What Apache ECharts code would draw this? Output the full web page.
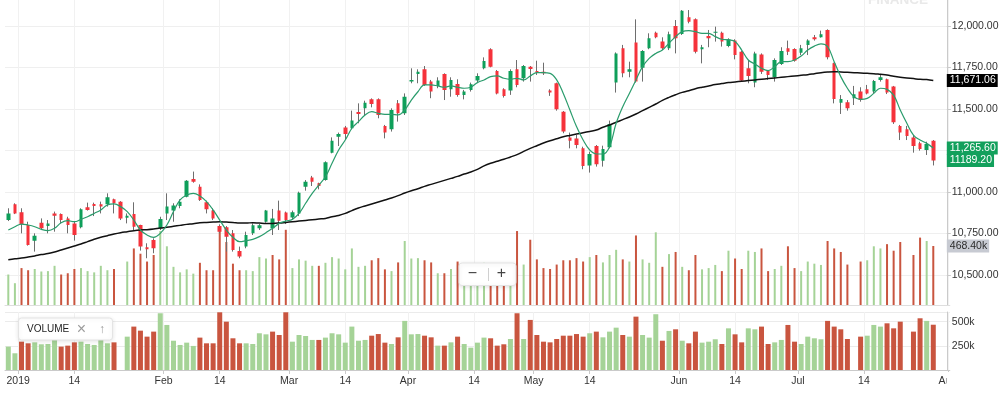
<!DOCTYPE html>
<html>
<head>
<meta charset="utf-8">
<title>Daily price chart 2019</title>
<script src="https://cdn.jsdelivr.net/npm/echarts@6.0.0/dist/echarts.min.js"></script>
<style>
html, body { margin: 0; padding: 0; background: #ffffff; }
#chart { width: 1000px; height: 394px; }
</style>
</head>
<body>
<div id="chart"></div>
<script>
// ===== Data (one entry per trading day) =====
const opens = [10831,10926,10878,10801,10707,10815,10795,10871,10867,10841,
 10811,10787,10908,10928,10926,10926,10956,10942,10845,10867,
 10801,10667,10711,10781,10871,10888,10916,10972,11078,11032,
 10938,10888,10795,10787,10751,10645,10671,10751,10781,10821,
 10781,10888,10876,10847,10871,11032,11088,11052,11072,11237,
 11333,11388,11384,11482,11504,11558,11558,11398,11378,11534,
 11474,11665,11711,11739,11665,11639,11711,11619,11651,11585,
 11615,11671,11745,11860,11729,11619,11611,11739,11685,11755,
 11729,11725,11611,11655,11484,11329,11323,11263,11159,11277,
 11189,11269,11659,11866,11725,11900,11749,11866,11960,11906,
 11866,12000,11952,12052,12040,11860,11940,11960,11960,11880,
 11912,11845,11745,11659,11829,11731,11691,11771,11866,11862,
 11839,11886,11932,11932,11976,11775,11538,11540,11565,11605,
 11619,11605,11675,11679,11635,11398,11378,11329,11293,11253,
 11309];
const highs = [10902,10932,10902,10821,10751,10841,10831,10882,10871,10851,
 10821,10902,10936,10936,10942,10992,10960,10945,10871,10938,
 10803,10691,10721,10851,10992,10932,10956,11072,11123,11046,
 10948,10902,10805,10795,10771,10671,10761,10811,10807,10892,
 10898,10948,10882,10888,11002,11072,11097,11056,11185,11329,
 11358,11398,11490,11534,11550,11564,11564,11404,11504,11554,
 11594,11745,11739,11759,11675,11691,11715,11691,11679,11615,
 11659,11715,11811,11866,11735,11625,11739,11795,11765,11759,
 11791,11779,11619,11659,11488,11358,11344,11273,11243,11283,
 11279,11430,11841,11886,11785,12040,11855,11956,11966,11932,
 11966,12036,12096,12096,12046,11886,11976,11996,11966,11926,
 11920,11851,11795,11845,11835,11735,11805,11872,11912,11866,
 11886,11920,11946,11972,11980,11779,11584,11554,11639,11631,
 11645,11675,11711,11683,11639,11404,11398,11344,11303,11303,
 11313];
const lows = [10825,10867,10751,10677,10641,10771,10751,10761,10811,10751,
 10707,10781,10888,10855,10871,10912,10871,10831,10811,10771,
 10647,10601,10631,10771,10831,10821,10902,10968,11056,10946,
 10871,10831,10751,10641,10641,10601,10661,10741,10771,10815,
 10741,10771,10807,10835,10855,11008,11036,11016,11068,11233,
 11277,11317,11378,11414,11464,11510,11444,11323,11364,11424,
 11464,11655,11655,11639,11565,11625,11554,11574,11574,11558,
 11605,11659,11739,11751,11588,11569,11585,11631,11665,11665,
 11705,11705,11579,11490,11354,11263,11263,11137,11117,11153,
 11153,11263,11599,11691,11691,11659,11665,11860,11926,11855,
 11855,11835,11946,12016,11835,11775,11872,11906,11876,11872,
 11799,11665,11655,11631,11711,11675,11665,11765,11825,11785,
 11825,11825,11912,11930,11799,11534,11470,11490,11524,11544,
 11588,11594,11665,11590,11410,11313,11313,11237,11249,11223,
 11160];
const closes = [10871,10871,10807,10681,10737,10781,10811,10857,10831,10801,
 10741,10896,10892,10916,10912,10968,10932,10841,10857,10791,
 10671,10655,10661,10837,10912,10918,10942,11068,11062,10952,
 10896,10841,10761,10731,10651,10611,10741,10799,10799,10888,
 10841,10827,10831,10878,10996,11062,11062,11036,11179,11309,
 11350,11350,11430,11470,11538,11530,11464,11358,11494,11474,
 11574,11675,11725,11645,11605,11671,11615,11675,11585,11605,
 11649,11699,11789,11755,11594,11579,11729,11645,11759,11741,
 11719,11715,11599,11498,11364,11309,11283,11157,11229,11167,
 11259,11410,11835,11715,11739,11665,11849,11926,11932,11866,
 11950,11926,12092,12026,11845,11872,11926,11966,11906,11920,
 11825,11671,11699,11835,11725,11705,11795,11849,11845,11791,
 11866,11912,11920,11950,11811,11560,11560,11504,11589,11554,
 11594,11669,11691,11599,11420,11358,11338,11277,11259,11289,
 11189.20];
// volume in thousands (null = no volume reported that day)
const volumesK = [242,173,293,276,286,266,269,311,242,252,
 286,293,269,259,311,276,286,null,345,449,
 407,345,397,587,466,303,259,283,249,335,
 276,276,597,500,328,276,276,269,380,369,
 397,362,597,293,362,352,311,311,335,380,
 369,283,449,303,311,355,372,283,269,338,
 508,369,372,355,338,252,252,286,345,269,
 231,283,335,328,252,266,321,587,321,518,
 362,293,286,321,355,355,372,345,380,397,
 338,397,438,362,345,552,362,335,577,303,
 404,421,303,276,397,283,293,318,269,431,
 369,286,431,421,449,269,286,311,466,293,
 269,345,328,318,508,449,421,321,null,345,
 355,466,449,483,431,500,null,397,535,508,
 468.40];
// 1 = up-volume bar (green), 0 = down-volume bar (red)
const volumeUp = [1,1,0,0,1,1,1,1,0,0,
 0,1,1,1,1,1,0,0,1,0,
 0,0,0,1,1,1,1,1,1,0,
 0,0,0,0,0,0,1,1,1,1,
 0,0,0,1,1,1,1,0,1,1,
 1,1,1,1,1,0,0,0,1,0,
 1,1,1,0,0,1,0,1,0,1,
 1,1,1,0,0,0,1,0,1,0,
 0,0,0,0,0,0,0,0,1,0,
 1,1,1,0,1,0,1,1,1,0,
 1,0,1,0,0,1,1,1,0,1,
 0,0,1,1,0,0,1,1,0,0,
 1,1,1,1,0,0,0,0,0,0,
 1,1,1,0,0,0,0,0,0,1,
 0];
// short moving average (green line)
const maShort = [10771,10791,10807,10801,10791,10775,10767,10781,10815,10827,
 10821,10835,10851,10871,10892,10922,10928,10912,10882,10831,
 10771,10741,10727,10751,10801,10882,10952,10982,10992,10976,
 10942,10892,10831,10771,10727,10701,10707,10715,10731,10755,
 10781,10811,10825,10835,10871,10932,10992,11042,11092,11173,
 11253,11313,11384,11424,11464,11484,11474,11468,11468,11464,
 11494,11554,11604,11645,11645,11639,11631,11639,11631,11625,
 11631,11659,11675,11695,11699,11685,11679,11685,11675,11699,
 11719,11719,11715,11675,11594,11494,11394,11313,11253,11229,
 11229,11273,11414,11514,11594,11675,11755,11805,11835,11855,
 11896,11936,11966,11972,11966,11956,11956,11936,11920,11916,
 11906,11855,11795,11771,11745,11731,11755,11785,11785,11795,
 11819,11855,11879,11892,11876,11785,11695,11625,11574,11558,
 11564,11594,11625,11618,11584,11494,11414,11343,11313,11293,
 11265.60];
// long moving average (black line)
const maLong = [10592,10598,10602,10608,10615,10623,10629,10639,10651,10663,
 10675,10687,10701,10715,10727,10737,10747,10755,10761,10767,
 10771,10773,10777,10783,10787,10793,10799,10805,10809,10815,
 10817,10819,10821,10819,10817,10813,10813,10815,10813,10811,
 10811,10813,10817,10821,10825,10829,10833,10837,10841,10851,
 10859,10871,10888,10904,10916,10928,10940,10952,10964,10978,
 10994,11008,11020,11034,11046,11058,11070,11082,11094,11108,
 11120,11136,11157,11173,11185,11197,11211,11225,11245,11263,
 11279,11295,11309,11321,11333,11341,11349,11357,11365,11373,
 11390,11404,11420,11436,11452,11470,11490,11510,11530,11552,
 11570,11586,11600,11610,11622,11631,11639,11647,11653,11659,
 11663,11667,11671,11675,11679,11683,11687,11691,11695,11699,
 11703,11707,11713,11719,11723,11725,11723,11721,11719,11717,
 11715,11713,11709,11705,11697,11691,11687,11683,11679,11677,
 11671.06];
// time-axis ticks, expressed in trading-day units along the axis
const xTickPositions = [1.5, 10, 23.5, 32, 42.5, 51, 60.5, 70.5, 79.5, 88, 101.5, 110, 119.5, 129.5, 142.2];
const xTickLabels = ['2019', '14', 'Feb', '14', 'Mar', '14', 'Apr', '14', 'May', '14', 'Jun', '14', 'Jul', '14', 'Aug'];
const priceGridTicks = [10500, 10750, 11000, 11250, 11500, 11750, 12000];
const priceLabelTicks = [10500, 10750, 11000, 11500, 11750, 12000];
const volumeLabelTicksK = [250, 500];
const volumeGridTicksK = [250, 500, 600];
const emptyTrailingDays = 2; // axis continues two sessions past the last bar

// ===== Presentation =====
const FONT = "'Liberation Sans', Arial, Helvetica, sans-serif";
const UP = '#0e9f5a', DOWN = '#f5323b', WICK = '#6e6e6e';
const VOL_UP = '#a5d397', VOL_DOWN = '#c9553f';
const MA_SHORT = '#2a9c6c', MA_LONG = '#111111';
const LABEL_GREEN = '#12a05c';

const slots = opens.length + emptyTrailingDays;
const band = 6.607;
const gridLeft = 5;
const gridWidth = slots * band;
const days = Array.from({ length: slots }, (_, i) => String(i));

const candleData = opens.map((o, i) => [o, closes[i], lows[i], highs[i]]);
const volItems = volumesK.map((v, i) => v == null ? '-' : {
  value: v, itemStyle: { color: volumeUp[i] ? VOL_UP : VOL_DOWN }
});
const last = opens.length - 1;

const fmtPrice = v => Number(v).toLocaleString('en-US', { minimumFractionDigits: 2, maximumFractionDigits: 2 });
const tagLabel = (bg, fg, text) => ({
  show: true, position: 'end', distance: -3, opacity: 1,
  formatter: text, backgroundColor: bg, color: fg,
  fontFamily: FONT, fontSize: 10.5, lineHeight: 11, padding: [1, 2, 1, 3]
});
const tagLine = (value, label) => ({
  silent: true, symbol: ['none', 'none'], animation: false,
  lineStyle: { color: 'rgba(0,0,0,0)', width: 0, type: 'solid' },
  label: label, emphasis: { disabled: true }, data: [{ yAxis: value }]
});

const chart = echarts.init(document.getElementById('chart'), null, { renderer: 'canvas' });
chart.setOption({
  animation: false,
  backgroundColor: '#ffffff',
  textStyle: { fontFamily: FONT },
  grid: [
    { left: gridLeft, top: 0, width: gridWidth, height: 305, outerBoundsMode: 'none', containLabel: false },
    { left: gridLeft, top: 0, width: gridWidth, height: 305, outerBoundsMode: 'none', containLabel: false },
    { left: gridLeft, top: 312, width: gridWidth, height: 58, outerBoundsMode: 'none', containLabel: false }
  ],
  xAxis: [
    { type: 'category', gridIndex: 0, position: 'top', data: days, show: false },
    { type: 'category', gridIndex: 1, position: 'top', data: days, show: false },
    { type: 'category', gridIndex: 2, position: 'top', data: days, show: false },
    { type: 'value', gridIndex: 0, position: 'bottom', min: -0.5, max: slots - 0.5,
      axisLine: { show: true, onZero: false, lineStyle: { color: '#dedede', width: 1 } },
      axisTick: { show: false, customValues: xTickPositions },
      axisLabel: { show: false, customValues: xTickPositions },
      splitLine: { show: true, lineStyle: { color: '#f1f1f1', width: 1 } } },
    { type: 'value', gridIndex: 2, position: 'bottom', min: -0.5, max: slots - 0.5,
      axisLine: { show: true, onZero: false, lineStyle: { color: '#cacaca', width: 1 } },
      axisTick: { show: true, length: 4, customValues: xTickPositions, lineStyle: { color: '#cacaca' } },
      axisLabel: { show: true, customValues: xTickPositions, margin: 6,
        formatter: v => { const k = xTickPositions.indexOf(v); return k >= 0 ? xTickLabels[k] : ''; },
        color: '#333333', fontSize: 10.5, fontFamily: FONT },
      splitLine: { show: true, lineStyle: { color: '#f1f1f1', width: 1 } } }
  ],
  yAxis: [
    { type: 'value', gridIndex: 0, position: 'right', offset: -3, min: 10319.3, max: 12156.6,
      axisLine: { show: true, onZero: false, lineStyle: { color: '#cacaca' } },
      axisTick: { show: true, length: 4, customValues: priceGridTicks, lineStyle: { color: '#cacaca' } },
      axisLabel: { show: true, customValues: priceLabelTicks, margin: 5, formatter: fmtPrice,
        color: '#333333', fontSize: 10.5, fontFamily: FONT },
      splitLine: { show: true, lineStyle: { color: '#efefef', width: 1 } } },
    { type: 'value', gridIndex: 1, min: 0, max: 2421, show: false, splitLine: { show: false } },
    { type: 'value', gridIndex: 2, position: 'right', offset: -3, min: 0, max: 600,
      axisLine: { show: true, onZero: false, lineStyle: { color: '#cacaca' } },
      axisTick: { show: false, customValues: volumeGridTicksK },
      axisLabel: { show: true, customValues: volumeLabelTicksK, margin: 5, formatter: v => v + 'k',
        color: '#333333', fontSize: 10.5, fontFamily: FONT },
      splitLine: { show: true, lineStyle: { color: '#ebebeb', width: 1 } } }
  ],
  series: [
    { name: 'Volume overlay', type: 'bar', xAxisIndex: 1, yAxisIndex: 1, barWidth: 2, z: 1, clip: false,
      data: volItems,
      markLine: tagLine(volumesK[last], tagLabel('#c7cad2', '#2b2b2b', p => p.value.toFixed(2) + 'k')) },
    { name: 'Volume', type: 'bar', xAxisIndex: 2, yAxisIndex: 2, barWidth: 5, data: volItems },
    { name: 'Range', type: 'candlestick', xAxisIndex: 0, yAxisIndex: 0, barWidth: 1, z: 3,
      data: candleData,
      itemStyle: { color: WICK, color0: WICK, borderColor: WICK, borderColor0: WICK, borderWidth: 1 } },
    { name: 'Price', type: 'candlestick', xAxisIndex: 0, yAxisIndex: 0, barWidth: 4, z: 4, clip: false,
      data: candleData,
      itemStyle: { color: UP, color0: DOWN, borderColor: UP, borderColor0: DOWN, borderWidth: 0 },
      markLine: tagLine(closes[last], tagLabel(LABEL_GREEN, '#ffffff', p => p.value.toFixed(2))) },
    { name: 'MA long', type: 'line', xAxisIndex: 0, yAxisIndex: 0, data: maLong, z: 5, clip: false,
      showSymbol: false, smooth: 0.4, lineStyle: { color: MA_LONG, width: 1.5 },
      markLine: tagLine(maLong[last], tagLabel('#000000', '#ffffff', p => fmtPrice(p.value))) },
    { name: 'MA short', type: 'line', xAxisIndex: 0, yAxisIndex: 0, data: maShort, z: 6, clip: false,
      showSymbol: false, smooth: 0.4, lineStyle: { color: MA_SHORT, width: 1.2 },
      markLine: tagLine(maShort[last], tagLabel(LABEL_GREEN, '#ffffff', p => fmtPrice(p.value))) }
  ],
  graphic: [
    { type: 'text', x: 868, y: 7.5, z: 0, silent: true,
      style: { text: 'FINANCE', font: 'bold 13.5px ' + FONT, fill: '#e9e9e9', verticalAlign: 'bottom' } },
    { type: 'rect', z: 100, silent: true, shape: { x: 18.5, y: 318, width: 94, height: 22, r: 3 },
      style: { fill: '#ffffff', stroke: '#e4e4e4', lineWidth: 1, shadowBlur: 4, shadowColor: 'rgba(0,0,0,0.10)', shadowOffsetY: 1 } },
    { type: 'text', z: 101, silent: true, x: 27, y: 329.5,
      style: { text: 'VOLUME', font: '10px ' + FONT, fill: '#1e1e1e', verticalAlign: 'middle' } },
    { type: 'text', z: 101, silent: true, x: 81.5, y: 329.5,
      style: { text: '×', font: '16px ' + FONT, fill: '#9b9b9b', align: 'center', verticalAlign: 'middle' } },
    { type: 'text', z: 101, silent: true, x: 102, y: 329.5,
      style: { text: '↑', font: '12px ' + FONT, fill: '#9b9b9b', align: 'center', verticalAlign: 'middle' } },
    { type: 'rect', z: 100, silent: true, shape: { x: 459, y: 263, width: 57, height: 22.5, r: 3 },
      style: { fill: '#ffffff', stroke: '#e4e4e4', lineWidth: 1, shadowBlur: 4, shadowColor: 'rgba(0,0,0,0.12)', shadowOffsetY: 1 } },
    { type: 'text', z: 101, silent: true, x: 472.5, y: 274,
      style: { text: '−', font: '16px ' + FONT, fill: '#444444', align: 'center', verticalAlign: 'middle' } },
    { type: 'line', z: 101, silent: true, shape: { x1: 488.5, y1: 268, x2: 488.5, y2: 281 },
      style: { stroke: '#d0d0d0', lineWidth: 1 } },
    { type: 'text', z: 101, silent: true, x: 501.5, y: 274,
      style: { text: '+', font: '16px ' + FONT, fill: '#444444', align: 'center', verticalAlign: 'middle' } },
    { type: 'rect', z: 100, silent: true, shape: { x: 946.5, y: 372, width: 54, height: 22 },
      style: { fill: '#ffffff' } }
  ]
});
</script>
</body>
</html>
